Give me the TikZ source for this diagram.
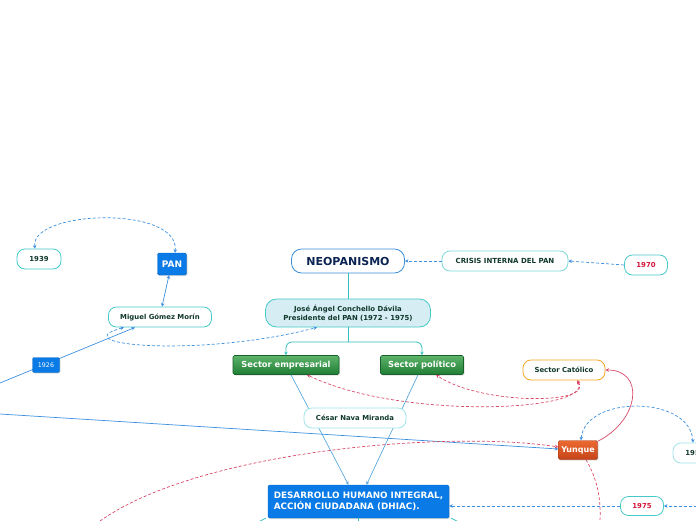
\documentclass[tikz,border=0pt]{standalone}
\usepackage{fontspec}
\setmainfont{DejaVu Sans}
\usetikzlibrary{arrows.meta,shadows,calc}
\definecolor{tealB}{HTML}{45C9C9}
\definecolor{tealL}{HTML}{9FE3EA}
\definecolor{neoB}{HTML}{3A8FD9}
\definecolor{txtG}{HTML}{10382C}
\definecolor{txtN}{HTML}{0B2454}
\definecolor{redT}{HTML}{D4163C}
\definecolor{blueF}{HTML}{0A7AE6}
\definecolor{greenT}{HTML}{5CB46A}
\definecolor{greenB}{HTML}{1F7D34}
\definecolor{greenD}{HTML}{17602A}
\definecolor{orT}{HTML}{EC6A30}
\definecolor{orB}{HTML}{C4441A}
\definecolor{catB}{HTML}{F5A623}
\definecolor{joseF}{HTML}{D5EDF3}
\definecolor{tealLine}{HTML}{35C0C0}
\definecolor{blueLine}{HTML}{3D90E0}
\definecolor{skyLine}{HTML}{5AAADC}
\definecolor{redLine}{HTML}{D94A6A}
\tikzset{
  fs/.style={font=\bfseries\fontsize{#1}{#1}\selectfont},
  fsl/.style 2 args={font=\bfseries\fontsize{#1}{#2}\selectfont},
  roundbox/.style={draw=tealB, line width=0.8pt, rounded corners=8pt, fill=white, text=txtG, inner sep=0pt, fs=6.9},
  bluebox/.style={fill=blueF, draw=blueF!85!black, line width=0.4pt, rounded corners=1.5pt, text=white, inner sep=0pt,
    drop shadow={opacity=0.25, shadow xshift=1pt, shadow yshift=-1pt}},
  greenbox/.style={top color=greenT, bottom color=greenB, draw=greenD, line width=0.6pt, rounded corners=1.5pt, text=white, inner sep=0pt, fs=8.3,
    drop shadow={opacity=0.25, shadow xshift=1pt, shadow yshift=-1pt}},
  orbox/.style={top color=orT, bottom color=orB, draw=orB!80!black, line width=0.4pt, rounded corners=1.5pt, text=white, inner sep=0pt, fs=8,
    drop shadow={opacity=0.25, shadow xshift=1pt, shadow yshift=-1pt}},
  tip/.style={-{Stealth[length=3.5pt,width=3.5pt]}},
  tips/.style={{Stealth[length=3.5pt,width=3.5pt]}-{Stealth[length=3.5pt,width=3.5pt]}},
  bdash/.style={draw=blueLine, line width=0.7pt, dash pattern=on 3pt off 2pt},
  rdash/.style={draw=redLine, line width=0.7pt, dash pattern=on 3pt off 2pt},
  bsolid/.style={draw=blueLine, line width=0.7pt},
  ssolid/.style={draw=skyLine, line width=0.7pt},
  tline/.style={draw=tealLine, line width=0.8pt}
}
\begin{document}
\begin{tikzpicture}[x=1pt,y=-1pt]
\useasboundingbox (0,0) rectangle (696,520);
\clip (0,0) rectangle (696,520);
\fill[white] (0,0) rectangle (696,520);

% nodes
\node[roundbox, minimum width=44, minimum height=20] (y1939) at (39,259) {1939};
\node[bluebox, fs=9, minimum width=29, minimum height=22] (pan) at (172,264) {PAN};
\node[roundbox, minimum width=103, minimum height=20] (miguel) at (160,317) {Miguel Gómez Morín};
\node[roundbox, draw=neoB, text=txtN, fs=11, rounded corners=10pt, minimum width=113, minimum height=24] (neo) at (348,261) {NEOPANISMO};
\node[roundbox, draw=tealB!70, fs=7, minimum width=126, minimum height=20] (crisis) at (505,261) {CRISIS INTERNA DEL PAN};
\node[roundbox, text=redT, minimum width=43, minimum height=20] (y1970) at (646,265) {1970};
\node[roundbox, fill=joseF, rounded corners=11pt, minimum width=165, minimum height=28, align=center, fsl={6.9}{9.3}] (jose) at (348,313) {José Ángel Conchello Dávila\\Presidente del PAN (1972 - 1975)};
\node[greenbox, minimum width=106, minimum height=19] (semp) at (286,365) {Sector empresarial};
\node[greenbox, minimum width=83, minimum height=19] (spol) at (422,365) {Sector político};
\node[roundbox, draw=catB, minimum width=82, minimum height=20] (scat) at (564,370) {Sector Católico};
\node[orbox, minimum width=39, minimum height=19] (yunque) at (578,450) {Yunque};
\node[roundbox, draw=tealL, minimum width=44, minimum height=20] (y195) at (695,453) {1959};
\node[roundbox, text=redT, minimum width=43, minimum height=19] (y1975) at (642,506) {1975};
\node[bluebox, fsl={8.8}{10.5}, minimum width=181, minimum height=33, align=left] (dhiac) at (358.5,501.5) {DESARROLLO HUMANO INTEGRAL,\\ACCIÓN CIUDADANA (DHIAC).};

% free ends
\coordinate (leftA) at (0,383);
\coordinate (leftB) at (0,414);
\coordinate (leftC) at (100,521);
\coordinate (botY) at (600,521);
\coordinate (rightE) at (697,506);

% teal hierarchy
\draw[tline] (neo.south) -- (jose.north);
\draw[tline] (jose.south) -- (348,342);
\draw[tline, tip, rounded corners=6pt] (348,342) -| (semp.north);
\draw[tline, tip, rounded corners=6pt] (348,342) -| (spol.north);
\draw[tline] (dhiac.south west) ++(-2,0) -- ++(-8,4);
\draw[tline] (dhiac.south east) ++(2,0) -- ++(8,4);
\draw[tline] (dhiac.south) -- ++(0,4);

% sectors to DHIAC (behind César)
\draw[ssolid, tip] ($(semp.south)+(5,0)$) -- ($(dhiac.north)+(-10,0)$);
\draw[ssolid, tip] ($(spol.south)+(-4,0)$) -- ($(dhiac.north)+(8,0)$);
\node[roundbox, draw=tealL, minimum width=102, minimum height=20] (cesar) at (355,418) {César Nava Miranda};

% blue dashed
\draw[bdash, tip] (crisis.west) -- (neo.east);
\draw[bdash, tip] (y1970.west) -- (crisis.east);
\draw[bdash, tips] ($(y1939.north)+(-4,0)$) .. controls (30,210) and (180,205) .. ($(pan.north)+(3,0)$);
\draw[bdash, tips] ($(miguel.south)+(-36,0)$) .. controls (60,345) and (200,358) .. ($(jose.south)+(-31,0)$);
\draw[bdash, tips] ($(yunque.north)+(3,0)$) .. controls (585,395) and (690,395) .. ($(y195.north)+(-2,0)$);
\draw[bdash, tip] (y1975.west) -- (dhiac.east |- y1975.west);
\draw[bdash, tip] (rightE) -- (y1975.east);

% blue solid
\draw[bsolid, tips] ($(pan.south)+(-3,0)$) -- ($(miguel.north)+(2,0)$);
\draw[bsolid, tip] (leftA) -- ($(miguel.south)+(-25,0)$);
\node[bluebox, font=\fontsize{6.3}{6.3}\selectfont, minimum width=27, minimum height=15] (y1926) at (46,365) {1926};
\draw[bsolid, tip] (leftB) -- ($(yunque.west)+(0,-1)$);

% red
\draw[rdash, tips] ($(scat.south)+(13,0)$) .. controls (595,412) and (400,420) .. ($(semp.south)+(21,0)$);
\draw[rdash, tips] ($(scat.south)+(13,0)$) .. controls (595,405) and (480,405) .. ($(spol.south)+(14,0)$);
\draw[rdash, tip] (leftC) .. controls (200,450) and (450,430) .. ($(yunque.west)+(0,-3)$);
\draw[rdash] ($(yunque.south)+(8,0)$) .. controls (598,480) and (601,500) .. (botY);
\draw[draw=redLine, line width=0.7pt, tip] ($(yunque.north east)+(0,1)$) .. controls (640,420) and (645,370) .. (scat.east);
\end{tikzpicture}
\end{document}
